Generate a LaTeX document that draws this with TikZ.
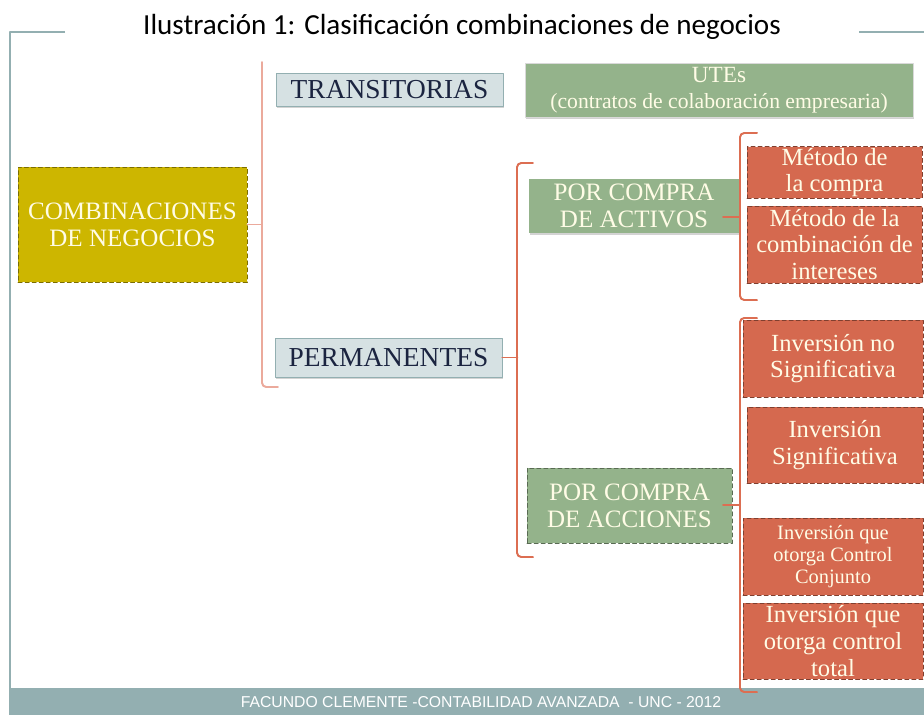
\documentclass[tikz,border=0pt]{standalone}
\usepackage{fontspec}
\setmainfont{Liberation Serif}
\newfontfamily\titlefont{Carlito}
\newfontfamily\footfont{Liberation Sans}
\usepackage{tikz}
\usetikzlibrary{shadows}

\definecolor{frameteal}{HTML}{93AFB1}
\definecolor{combolive}{HTML}{CDB600}
\definecolor{sage}{HTML}{94B38B}
\definecolor{coral}{HTML}{D5694F}
\definecolor{paleblue}{HTML}{D6E1E3}
\definecolor{navy}{HTML}{1B2440}
\definecolor{cream}{HTML}{FFFCE6}
\definecolor{bracelight}{HTML}{EBAA9C}
\definecolor{bracedark}{HTML}{DC6E52}

\begin{document}
\begin{tikzpicture}[line cap=round,line join=round,x=0.025cm,y=-0.025cm,
  greybox/.style={draw=frameteal, fill=paleblue, text=navy, drop shadow={opacity=0.35, shadow xshift=1pt, shadow yshift=-1.5pt}, font=\fontsize{19.5}{21}\selectfont},
  sagebox/.style={fill=sage, text=cream, align=center, font=\fontsize{17.8}{19.2}\selectfont},
  coralbox/.style={fill=coral, draw=coral!60!black, densely dashed, text=cream, align=center},
  brace/.style={line width=1.4pt, rounded corners=3pt}]

% picture is laid out in pixels of the reference
\def\px{0.025cm}
\useasboundingbox (0,0) rectangle (924,715);

% frame and footer band
\draw[frameteal, line width=1.5pt, line cap=butt] (65,32) -- (10,32) -- (10,688);
\draw[frameteal, line width=1.5pt, line cap=butt] (859,32) -- (924,32);
\fill[frameteal] (9,688) rectangle (924,715);
\node[text=white, font=\footfont\fontsize{11.2}{13}\selectfont] (foot) at (481,702) {FACUNDO CLEMENTE -CONTABILIDAD AVANZADA\ \ - UNC - 2012};

% title
\node[anchor=base, font=\titlefont\fontsize{20.7}{24}\selectfont] (title) at (462,35) {Ilustración 1: Clasificación combinaciones de negocios};

% main box
\node[fill=combolive, draw=combolive!60!black, densely dashed, text=cream, align=center, font=\fontsize{17.8}{19.2}\selectfont,
  minimum width=229*\px, minimum height=115*\px] (comb) at (132.5,224.5) {COMBINACIONES\\DE NEGOCIOS};

% first level
\node[greybox, minimum width=227*\px, minimum height=33*\px] (trans) at (389.5,89.5) {TRANSITORIAS};
\node[greybox, minimum width=227*\px, minimum height=39*\px] (perm) at (388.5,357.5) {PERMANENTES};

% second level
\node[sagebox, draw=white!85!black, drop shadow={opacity=0.35, shadow xshift=1pt, shadow yshift=-1.5pt},
  minimum width=388*\px, minimum height=54*\px, inner sep=0pt] (utes) at (719,90)
  {\fontsize{16.5}{17}\selectfont UTEs\\[-1pt]\fontsize{15.4}{16}\selectfont (contratos de colaboración empresaria)};
\node[sagebox, drop shadow={opacity=0.35, shadow xshift=1pt, shadow yshift=-1.5pt},
  minimum width=211*\px, minimum height=54*\px] (activos) at (634,206) {POR COMPRA\\DE ACTIVOS};
\node[sagebox, draw=sage!60!black, densely dashed,
  minimum width=205*\px, minimum height=75*\px] (acciones) at (629.5,505.5) {POR COMPRA\\DE ACCIONES};

% third level
\foreach \name/\cx/\cy/\w/\h/\fs/\ls/\txt in {
  m1/834.5/172.5/175/45/17.5/19/{Método de\\la compra},
  m2/834.5/244.5/175/77/17.5/19/{Método de la\\combinación de\\intereses},
  i1/833/358.5/180/77/17.5/19/{Inversión no\\Significativa},
  i2/835/445/176/76/17.5/19/{Inversión\\Significativa},
  i3/833/556.5/180/77/14.5/15.8/{Inversión que\\otorga Control\\Conjunto},
  i4/833/641/180/76/17.5/19/{Inversión que\\otorga control\\total}}{
  \node[coralbox, font=\fontsize{\fs}{\ls}\selectfont, minimum width=\w*\px, minimum height=\h*\px, inner sep=1pt] (\name) at (\cx,\cy) {\txt};
}

% brackets
\coordinate (b1top) at (262,62);
\coordinate (b1bot) at (278,387);
\draw[bracelight, brace] (b1top) |- (b1bot);
\draw[bracelight, line width=1.4pt] (comb.east) -- (comb.east -| b1top);

\coordinate (b2top) at (533,163);
\coordinate (b2bot) at (533,557);
\draw[bracedark, brace] (b2top) -- ++(-16,0) |- (b2bot);
\draw[bracedark, line width=1.4pt] (perm.east) -- ++(15,0);

\coordinate (b3top) at (757,133);
\coordinate (b3bot) at (757,300);
\coordinate (t3) at (723,217);
\draw[bracedark, brace] (b3top) -- ++(-17,0) |- (b3bot);
\draw[bracedark, line width=1.4pt] (t3) -- ++(17,0);

\coordinate (b4top) at (757,318);
\coordinate (b4bot) at (757,692);
\coordinate (t4) at (723,505);
\draw[bracedark, brace] (b4top) -- ++(-17,0) |- (b4bot);
\draw[bracedark, line width=1.4pt] (t4) -- ++(17,0);

\end{tikzpicture}
\end{document}
